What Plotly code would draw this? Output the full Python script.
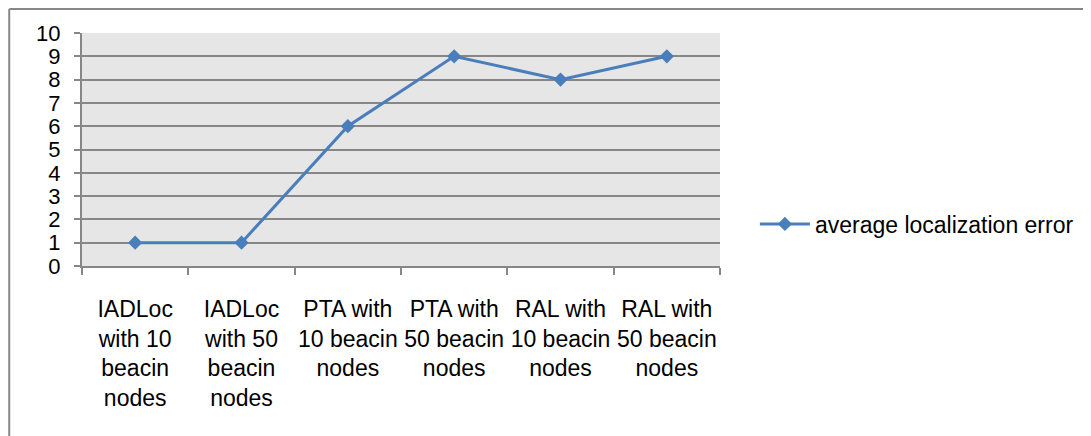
import plotly.graph_objects as go

categories = [
    "IADLoc<br>with 10<br>beacin<br>nodes",
    "IADLoc<br>with 50<br>beacin<br>nodes",
    "PTA with<br>10 beacin<br>nodes",
    "PTA with<br>50 beacin<br>nodes",
    "RAL with<br>10 beacin<br>nodes",
    "RAL with<br>50 beacin<br>nodes",
]
avg_error = [1, 1, 6, 9, 8, 9]
series_name = "average localization error"
y_ticks = list(range(0, 11))

# page has an 8px body margin; work in figure coordinates
OFF = 8
W, H = 1091 - OFF, 436 - OFF
L, R, T, B = 82 - OFF, 722 - OFF, 33 - OFF, 266 - OFF

FONT = "Liberation Sans, Arial, sans-serif"
GRID = "#878787"
BLUE = "#4a7ebb"

fig = go.Figure()
fig.add_trace(go.Scatter(
    x=categories, y=avg_error, name=series_name, mode="lines+markers",
    line=dict(color=BLUE, width=3),
    marker=dict(symbol="diamond", size=11, color=BLUE),
))

fig.update_layout(
    width=W, height=H,
    margin=dict(l=L, r=W - R, t=T, b=H - B, pad=0),
    paper_bgcolor="white", plot_bgcolor="#e6e6e6",
    font=dict(family=FONT, size=23, color="black"),
    showlegend=True,
    legend=dict(
        x=(757 - OFF - L) / (R - L), y=(B - (224 - OFF)) / (B - T),
        xanchor="left", yanchor="middle",
        bgcolor="rgba(0,0,0,0)", font=dict(size=23, family=FONT),
        itemwidth=50,
    ),
    xaxis=dict(
        type="category", tickson="boundaries", ticks="outside", ticklen=7,
        tickcolor=GRID, tickwidth=2, showline=True, linecolor=GRID, linewidth=2,
        showgrid=False, tickfont=dict(size=23, family=FONT), tickangle=0,
        ticklabelstandoff=21, range=[-0.5, 5.5], automargin=False,
    ),
    yaxis=dict(
        range=[0, 10], tickvals=y_ticks, ticks="outside", ticklen=6,
        tickcolor=GRID, tickwidth=2, showline=True, linecolor=GRID, linewidth=2,
        showgrid=True, gridcolor=GRID, gridwidth=2, zeroline=False,
        tickfont=dict(size=22, family=FONT), ticklabelstandoff=9,
        automargin=False,
    ),
    shapes=[
        dict(type="line", xref="paper", yref="paper",
             x0=(1 - L) / (R - L), x1=(W + 5 - L) / (R - L),
             y0=(B - 1) / (B - T), y1=(B - 1) / (B - T),
             line=dict(color=GRID, width=2)),
        dict(type="line", xref="paper", yref="paper",
             x0=(1 - L) / (R - L), x1=(1 - L) / (R - L),
             y0=(B - 1) / (B - T), y1=(B - H - 5) / (B - T),
             line=dict(color=GRID, width=2)),
    ],
)

fig.write_html("out.html")
